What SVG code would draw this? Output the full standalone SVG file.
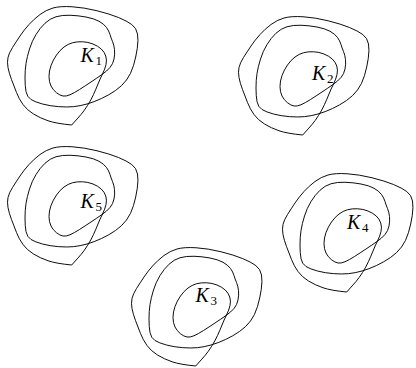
<svg xmlns="http://www.w3.org/2000/svg" xmlns:xlink="http://www.w3.org/1999/xlink" width="416" height="368" viewBox="0 0 416 368">
<style>
.curve{fill:none;stroke:#000;stroke-width:0.95;stroke-linejoin:round}
.lbl{font-family:"Liberation Serif","Times New Roman",serif;font-style:italic;font-size:20px;fill:#000}
.sub{font-style:normal;font-size:13px}
</style>
<defs>
<path id="spiral" class="curve" d="M71.7 125 Q56 123.5 48 120.75 Q40 118 33.5 114 Q27 110 23 104.5 Q19 99 16.5 92.5 Q14 86 11.5 79.5 Q9 73 8 67.5 Q7 62 8 57.5 Q9 53 12.5 47.5 Q16 42 20 36 Q24 30 29 24.5 Q34 19 40 14.5 Q46 10 53 8 Q60 6 72 6.75 Q84 7.5 97 10.75 Q110 14 118.5 17.5 Q127 21 131.75 24.5 Q136.5 28 137.5 34 Q138.5 40 137.25 48.5 Q136 57 133.5 65.5 Q131 74 126.5 80 Q122 86 115.5 90.5 Q109 95 101.5 98.5 Q94 102 87 104 Q80 106 73.5 106.65 Q67 107.3 58.5 106.65 Q50 106 42.5 104 Q35 102 31 99.5 Q27 97 26 91.5 Q25 86 25 78 Q25 70 26 63.5 Q27 57 29.5 49 Q32 41 36 34.5 Q40 28 45 23.25 Q50 18.5 56 16.75 Q62 15 70 15.25 Q78 15.5 86 17 Q94 18.5 99 21.25 Q104 24 106.5 27.5 Q109 31 110 34.5 Q111 38 112.5 41.5 Q114 45 114.5 49.5 Q115 54 114 59 Q113 64 110 67.5 Q107 71 102 74.5 Q97 78 91 82 Q85 86 79.5 89.5 Q74 93 70 94.75 Q66 96.5 63 96 Q60 95.5 56.5 92.75 Q53 90 51 86 Q49 82 49 76.5 Q49 71 51 65.5 Q53 60 56.5 55 Q60 50 64 47 Q68 44 72.5 42.75 Q77 41.5 82.5 41.75 Q88 42 93 44 Q98 46 101.25 49 Q104.5 52 105.75 56 Q107 60 106 64.5 Q105 69 102.5 74 Q100 79 98 84 Q96 89 93.5 94.5 Q91 100 87.5 105.5 Q84 111 81 114.5 Q78 118 71.7 125"/>
</defs>
<g id="K1">
<use xlink:href="#spiral" href="#spiral"/>
<text class="lbl" x="80.5" y="62">K<tspan class="sub" x="95.5" y="65">1</tspan></text>
</g>
<g id="K2">
<use xlink:href="#spiral" href="#spiral" transform="translate(231,10)"/>
<text class="lbl" x="312" y="80">K<tspan class="sub" x="327" y="83">2</tspan></text>
</g>
<g id="K5">
<use xlink:href="#spiral" href="#spiral" transform="translate(0,140)"/>
<text class="lbl" x="80.5" y="208.3">K<tspan class="sub" x="95.5" y="211.3">5</tspan></text>
</g>
<g id="K3">
<use xlink:href="#spiral" href="#spiral" transform="translate(124,241)"/>
<text class="lbl" x="195.5" y="301.7">K<tspan class="sub" x="210.5" y="304.7">3</tspan></text>
</g>
<g id="K4">
<use xlink:href="#spiral" href="#spiral" transform="translate(275,167)"/>
<text class="lbl" x="347" y="229">K<tspan class="sub" x="362" y="232">4</tspan></text>
</g>
<g id="connectors"></g>
</svg>
